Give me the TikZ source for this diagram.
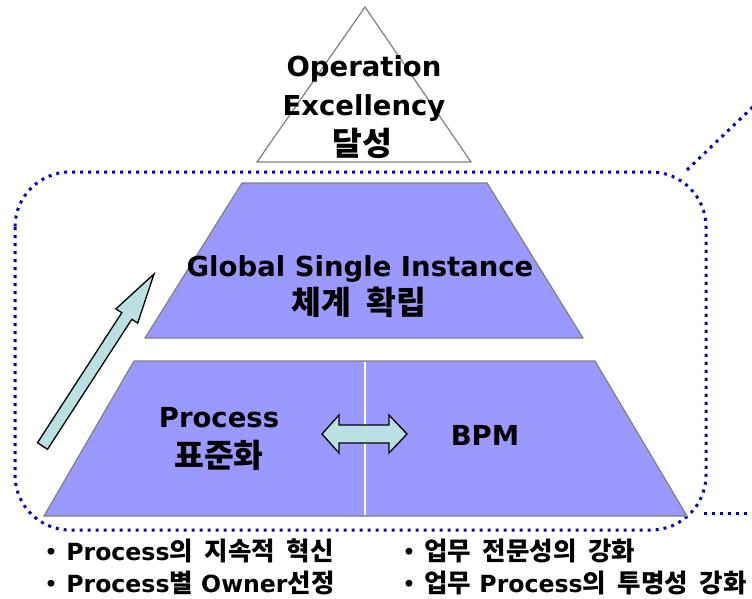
\documentclass[tikz,border=0pt]{standalone}
\usepackage{fontspec}
\setmainfont{DejaVu Sans}
\newfontfamily\krfont{Noto Sans CJK KR}[Scale=1.08,WordSpace=2.0]
\newcommand{\hk}[1]{{\krfont\bfseries #1}}
\newcommand{\bul}{{\mdseries •}}
\definecolor{pyr}{RGB}{153,153,255}
\definecolor{edge}{RGB}{128,128,128}
\definecolor{arr}{RGB}{187,224,227}
\definecolor{dotblue}{RGB}{0,0,204}
\tikzset{
  level/.style={fill=pyr, draw=edge, line width=1.2pt, line join=miter},
  dotline/.style={draw=dotblue, line width=3pt, dash pattern=on 3pt off 5pt},
  fatarrow/.style={fill=arr, draw=black, line width=1.3pt, line join=miter},
  biglabel/.style={font=\bfseries\fontsize{27.5}{30}\selectfont, anchor=base, inner sep=0pt},
  bigkr/.style={font=\krfont\bfseries\fontsize{30}{32}\selectfont, anchor=center, inner sep=0pt},
  bullet/.style={font=\bfseries\fontsize{23.6}{26}\selectfont, anchor=base west, inner sep=0pt},
}
\begin{document}
\begin{tikzpicture}[x=1pt,y=-1pt]
\useasboundingbox (0,0) rectangle (752,598);
% dotted frame and leader lines
\draw[dotline, rounded corners=55pt] (15,172) rectangle (706,530);
\coordinate (ltop) at (687,170);
\coordinate (ltopend) at (756,104);
\coordinate (lbot) at (704,513);
\coordinate (lbotend) at (752,513);
\draw[dotline] (ltop) -- (ltopend);
\draw[dotline] (lbot) -- (lbotend);
% top triangle
\coordinate (tA) at (365,7);
\coordinate (tB) at (257,162);
\coordinate (tC) at (471,162);
\draw[draw=edge, line width=1.2pt, fill=white] (tA) -- (tB) -- (tC) -- cycle;
% middle trapezoid
\coordinate (m1) at (242,183);
\coordinate (m2) at (487,183);
\coordinate (m3) at (583,338);
\coordinate (m4) at (145,338);
\draw[level] (m1) -- (m2) -- (m3) -- (m4) -- cycle;
% bottom trapezoid
\coordinate (b1) at (134,361);
\coordinate (b2) at (595,361);
\coordinate (b3) at (687,516);
\coordinate (b4) at (44,516);
\draw[level] (b1) -- (b2) -- (b3) -- (b4) -- cycle;
\coordinate (sTop) at (365,362);
\coordinate (sBot) at (365,515);
\draw[white, line width=1.5pt] (sTop) -- (sBot);
% diagonal arrow
\draw[fatarrow] (37.5,442.7) -- (121.8,312.7) -- (115.9,308.9) -- (154,274)
  -- (137.7,323.1) -- (131.8,319.3) -- (47.5,449.3) -- cycle;
% double arrow
\draw[fatarrow] (322,434) -- (339,415) -- (339,425) -- (389,425) -- (389,415)
  -- (407,434) -- (389,453) -- (389,443) -- (339,443) -- (339,453) -- cycle;
% labels
\node[biglabel] (op) at (364,76) {Operation};
\node[biglabel] (ex) at (364,115) {Excellency};
\node[bigkr] (ds) at (362,143) {달성};
\node[biglabel] (gsi) at (360,276) {Global Single Instance};
\node[bigkr] (cg) at (359,302) {체계 확립};
\node[biglabel] (pr) at (219,427) {Process};
\node[bigkr] (pj) at (219,455) {표준화};
\node[biglabel] (bpm) at (485,445) {BPM};
% bullets
\node[bullet] (l1) at (44,560) {\bul{} Process\hk{의 지속적 혁신}};
\node[bullet] (l2) at (44,592) {\bul{} Process\hk{별} Owner\hk{선정}};
\node[bullet] (r1) at (402,560) {\bul{} \hk{업무 전문성의 강화}};
\node[bullet] (r2) at (402,592) {\bul{} \hk{업무} Process\hk{의 투명성 강화}};
\end{tikzpicture}
\end{document}
